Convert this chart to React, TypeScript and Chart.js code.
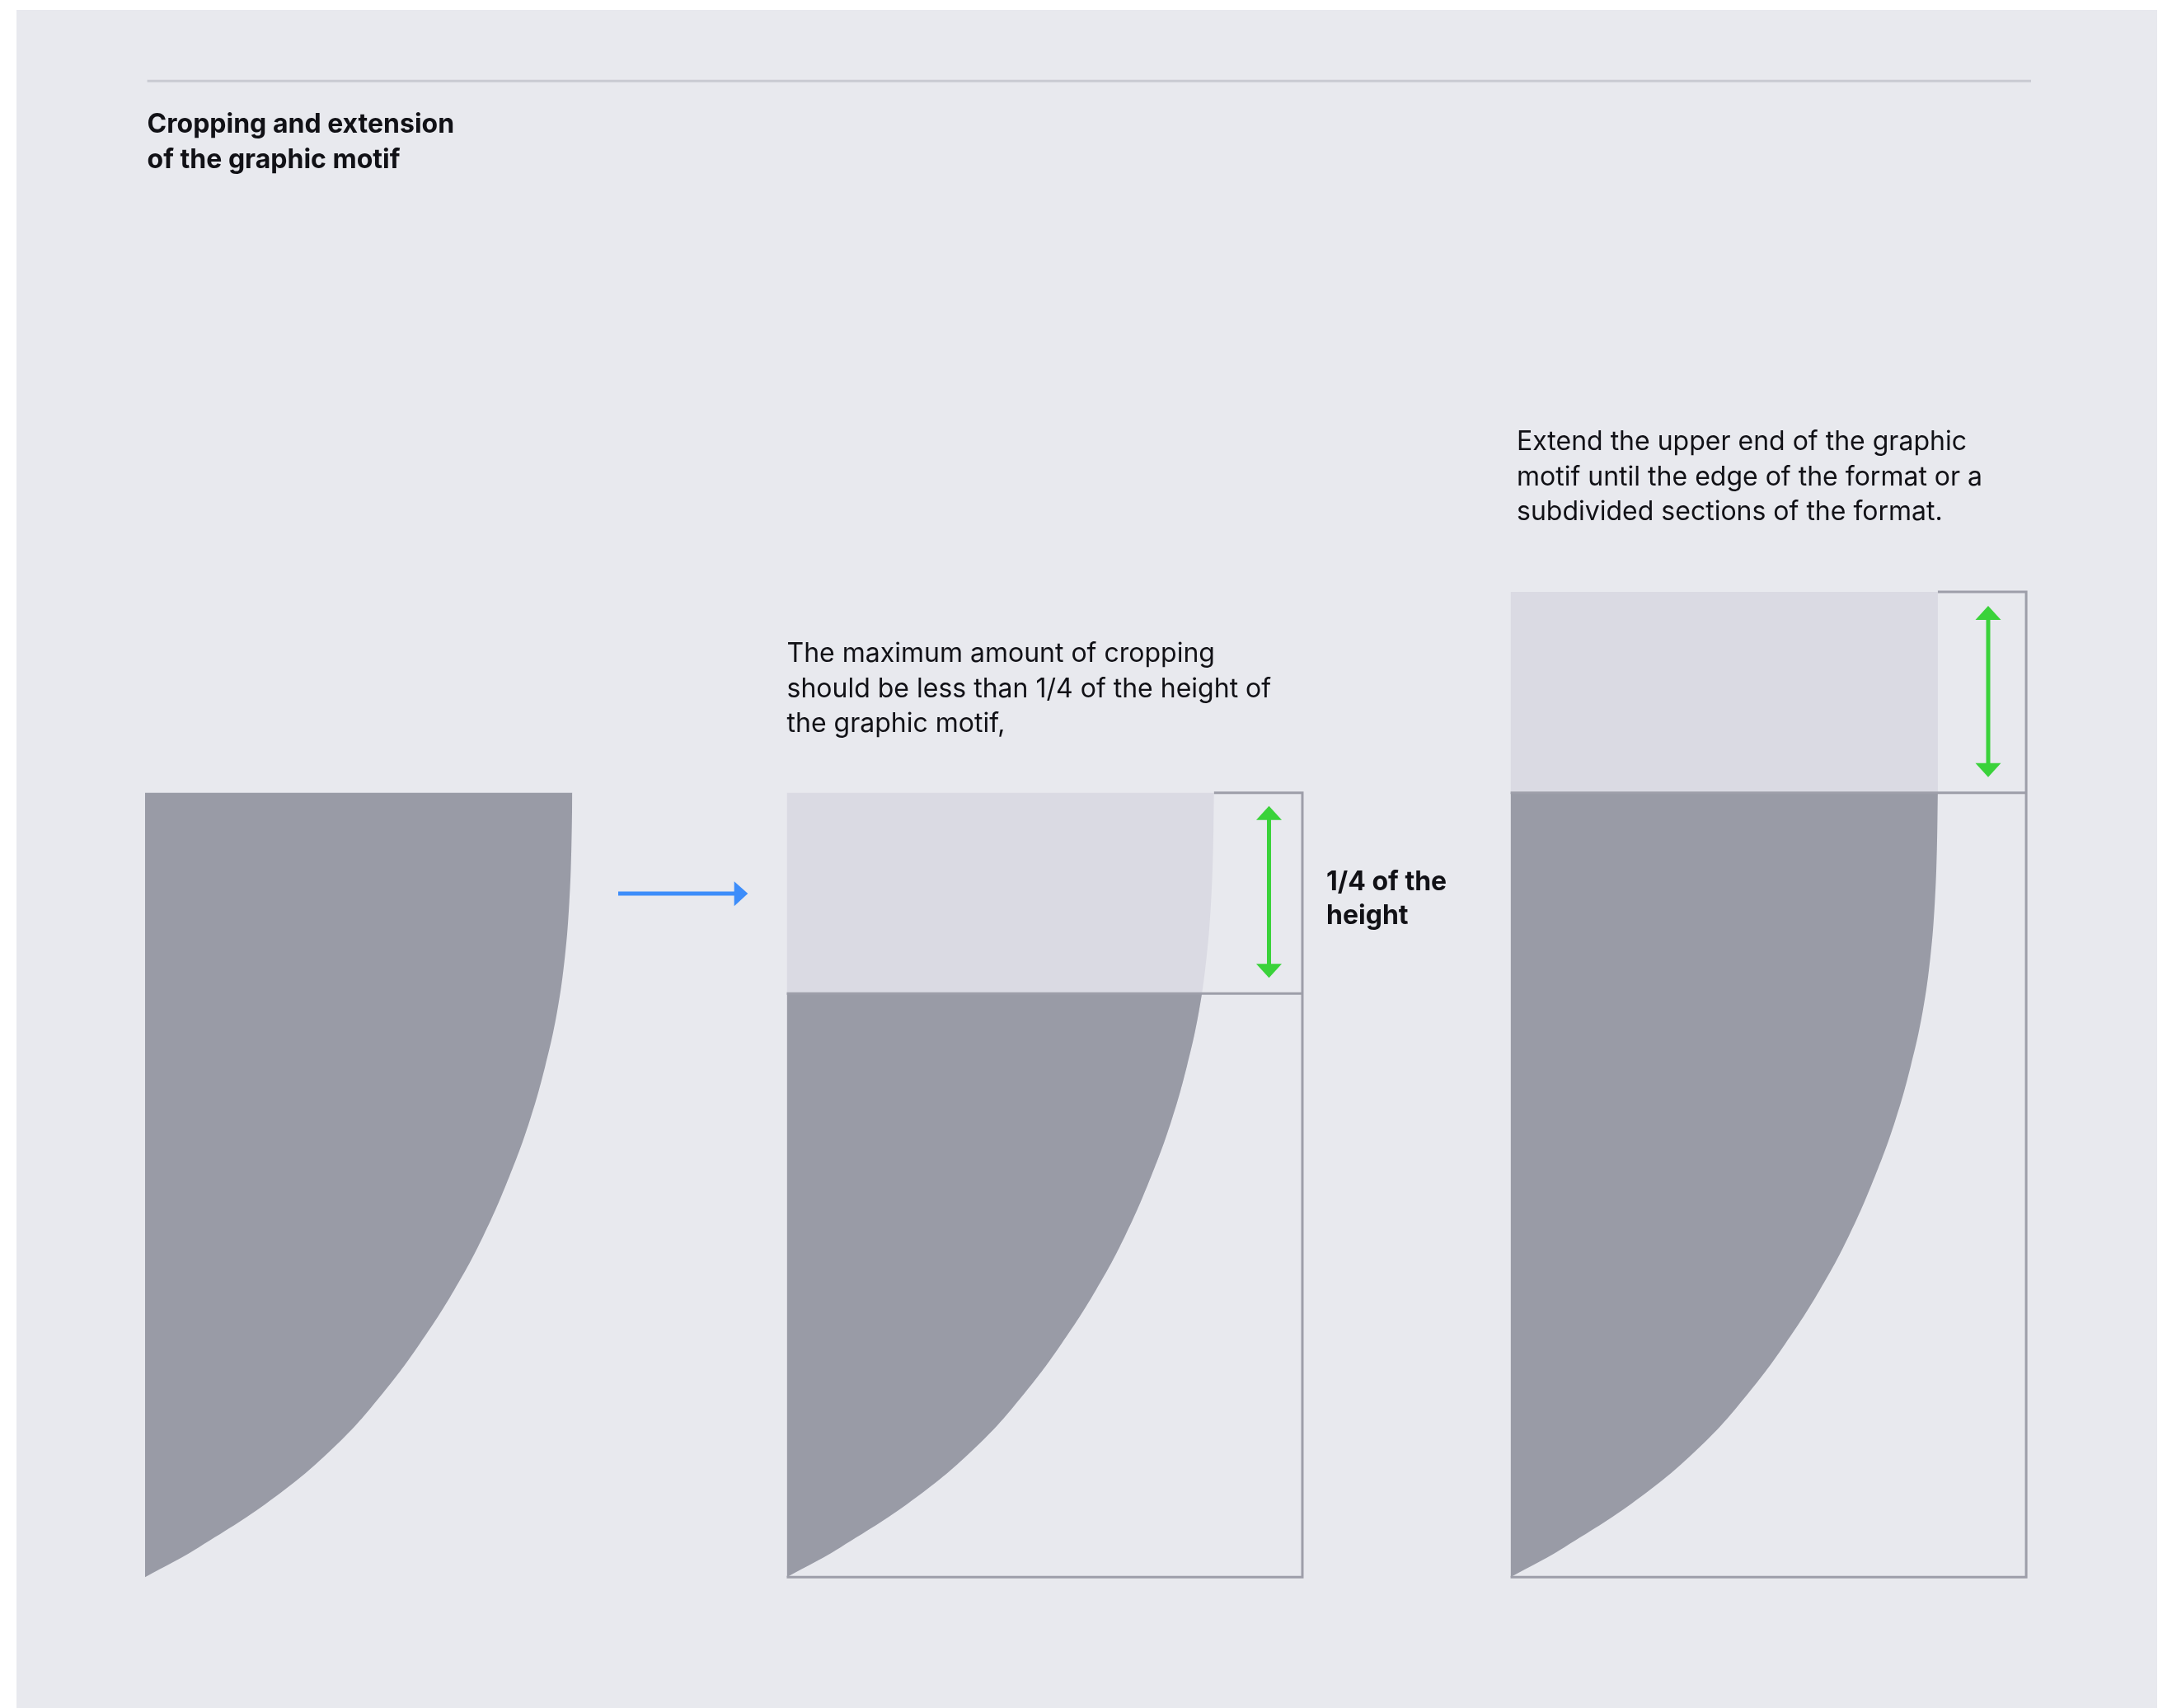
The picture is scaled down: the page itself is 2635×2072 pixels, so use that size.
import React, { useEffect, useRef } from "react";
import { Chart, registerables } from "chart.js";

Chart.register(...registerables);

// ---------- data ----------
// Outline of the graphic motif: x and y in percent of the motif height,
// y measured downward from the motif top (read off the reference).
const motifEdgeX = [0, 6.83, 16.71, 24.7, 30.32, 35.03, 39.41, 43.09, 46.45, 49.02, 51.02, 52.54, 53.53, 54.08, 54.35, 54.47];
const motifEdgeY = [100, 96.2, 89.68, 82.84, 76.54, 70.23, 63.4, 56.57, 48.9, 41.86, 34.82, 27.88, 20.84, 14.01, 7.18, 0];
// share of the motif height that is cropped (panel 2) / extended (panel 3)
const cropShare = 25.6;
const motifWidthShare = 54.47;

const titleLines = ["Cropping and extension", "of the graphic motif"];
const cropNoteLines = [
  "The maximum amount of cropping",
  "should be less than 1/4 of the height of",
  "the graphic motif,",
];
const quarterLabelLines = ["1/4 of the", "height"];
const extendNoteLines = [
  "Extend the upper end of the graphic",
  "motif until the edge of the format or a",
  "subdivided sections of the format.",
];

// ---------- layout ----------
const W = 2635;
const H = 2072;
const MOTIF_TOP = 961.7;
const MOTIF_H = 951.6;
const PANEL_LEFT = [176, 954.5, 1832.6];
const BOX_W = 625.5;

const COL_BG = "#e8e9ee";
const COL_DARK = "#999ba6";
const COL_LIGHT = "#dadae3";
const COL_LINE = "#9d9ea9";
const COL_RULE = "#c9cad2";
const COL_GREEN = "#3ad23a";
const COL_BLUE = "#3d8dfa";
const FONT = "Inter, 'Noto Sans', sans-serif";

const px = (share: number) => (share / 100) * MOTIF_H;

function motifCurve(left: number) {
  return motifEdgeX.map((u, i) => ({ x: left + px(u), y: MOTIF_TOP + px(motifEdgeY[i]) }));
}

function vArrow(x: number, yTop: number, yBot: number) {
  const hh = 17;
  const hw = 15.5;
  return [
    {
      data: [
        { x, y: yTop + hh - 1 },
        { x, y: yBot - hh + 1 },
      ],
      borderColor: COL_GREEN,
      borderWidth: 5,
      fill: false,
    },
    {
      data: [
        { x: x - hw, y: yTop + hh },
        { x, y: yTop },
        { x: x + hw, y: yTop + hh },
      ],
      borderWidth: 0,
      backgroundColor: COL_GREEN,
      fill: "shape",
    },
    {
      data: [
        { x: x - hw, y: yBot - hh },
        { x, y: yBot },
        { x: x + hw, y: yBot - hh },
      ],
      borderWidth: 0,
      backgroundColor: COL_GREEN,
      fill: "shape",
    },
  ];
}

function buildDatasets() {
  const top = MOTIF_TOP;
  const bottom = MOTIF_TOP + MOTIF_H;
  const cropY = MOTIF_TOP + px(cropShare);
  const extTop = MOTIF_TOP - px(cropShare);
  const mw = px(motifWidthShare);
  const [l1, l2, l3] = PANEL_LEFT;

  const ds: any[] = [
    // top rule
    {
      data: [
        { x: 178.6, y: 98.3 },
        { x: 2464, y: 98.3 },
      ],
      borderColor: COL_RULE,
      borderWidth: 3,
      fill: false,
    },
    // panel 1: motif
    { data: motifCurve(l1), tension: 0.4, borderWidth: 0, backgroundColor: COL_DARK, fill: { value: top } },
    // panel 2: whole motif, light
    { data: motifCurve(l2), tension: 0.4, borderWidth: 0, backgroundColor: COL_LIGHT, fill: { value: top } },
    // panel 2: part that stays, dark
    {
      data: motifCurve(l2),
      tension: 0.4,
      borderWidth: 0,
      backgroundColor: COL_DARK,
      fill: { target: { value: cropY }, above: "rgba(0,0,0,0)", below: COL_DARK },
    },
    // panel 3: extension, light
    {
      data: [
        { x: l3, y: extTop },
        { x: l3 + mw, y: extTop },
      ],
      borderWidth: 0,
      backgroundColor: COL_LIGHT,
      fill: { value: top },
    },
    // panel 3: motif
    { data: motifCurve(l3), tension: 0.4, borderWidth: 0, backgroundColor: COL_DARK, fill: { value: top } },
    // panel 2 frame
    {
      data: [
        { x: l2 + mw, y: top },
        { x: l2 + BOX_W, y: top },
        { x: l2 + BOX_W, y: bottom },
        { x: l2, y: bottom },
      ],
      borderColor: COL_LINE,
      borderWidth: 3,
      fill: false,
    },
    {
      data: [
        { x: l2, y: cropY },
        { x: l2 + BOX_W, y: cropY },
      ],
      borderColor: COL_LINE,
      borderWidth: 3,
      fill: false,
    },
    // panel 3 frame
    {
      data: [
        { x: l3 + mw, y: extTop },
        { x: l3 + BOX_W, y: extTop },
        { x: l3 + BOX_W, y: bottom },
        { x: l3, y: bottom },
      ],
      borderColor: COL_LINE,
      borderWidth: 3,
      fill: false,
    },
    {
      data: [
        { x: l3, y: top },
        { x: l3 + BOX_W, y: top },
      ],
      borderColor: COL_LINE,
      borderWidth: 3,
      fill: false,
    },
    // green measuring arrows
    ...vArrow(1539.5, top + 16, cropY - 19),
    ...vArrow(2412, extTop + 17, top - 19),
    // blue arrow
    {
      data: [
        { x: 750, y: 1084 },
        { x: 892, y: 1084 },
      ],
      borderColor: COL_BLUE,
      borderWidth: 5,
      fill: false,
    },
    {
      data: [
        { x: 890.7, y: 1069.3 },
        { x: 907.3, y: 1084 },
        { x: 890.7, y: 1099.3 },
      ],
      borderWidth: 0,
      backgroundColor: COL_BLUE,
      fill: "shape",
    },
  ];
  // later datasets are drawn on top
  return ds.map((d, i) => ({ pointRadius: 0, pointHoverRadius: 0, tension: 0, ...d, order: 100 - i }));
}

function TextBlock(props: {
  lines: string[];
  left: number;
  top: number;
  size: number;
  lh: number;
  weight: number;
}) {
  return (
    <div
      style={{
        position: "absolute",
        left: props.left,
        top: props.top,
        fontFamily: FONT,
        fontSize: props.size,
        lineHeight: props.lh + "px",
        fontWeight: props.weight,
        color: "#111116",
        whiteSpace: "nowrap",
        zIndex: 2,
      }}
    >
      {props.lines.map((l, i) => (
        <div key={i}>{l}</div>
      ))}
    </div>
  );
}

export default function App() {
  const ref = useRef<HTMLCanvasElement | null>(null);

  useEffect(() => {
    if (!ref.current) return;
    const chart = new Chart(ref.current, {
      type: "line",
      data: { datasets: buildDatasets() },
      options: {
        animation: false,
        responsive: false,
        maintainAspectRatio: false,
        events: [],
        layout: { padding: 0 },
        scales: {
          x: { type: "linear", min: 0, max: W, display: false },
          y: { type: "linear", min: 0, max: H, reverse: true, display: false },
        },
        elements: {
          point: { radius: 0, hoverRadius: 0 },
          line: { borderCapStyle: "butt", borderJoinStyle: "miter" },
        },
        plugins: {
          legend: { display: false },
          tooltip: { enabled: false },
          title: { display: false },
        },
      } as any,
    });
    return () => chart.destroy();
  }, []);

  return (
    <div
      style={{
        position: "absolute",
        left: 0,
        top: 0,
        width: W,
        height: H,
        background: "#ffffff",
        overflow: "hidden",
      }}
    >
      <div
        style={{
          position: "absolute",
          left: 20,
          top: 12,
          width: 2597,
          height: H - 12,
          background: COL_BG,
        }}
      />
      <canvas
        ref={ref}
        width={W}
        height={H}
        style={{ position: "absolute", left: 0, top: 0, width: W, height: H, zIndex: 1 }}
      />
      <TextBlock lines={titleLines} left={178.6} top={127.5} size={32} lh={43} weight={700} />
      <TextBlock lines={cropNoteLines} left={954.5} top={771} size={32} lh={42.5} weight={400} />
      <TextBlock lines={quarterLabelLines} left={1609} top={1048} size={32} lh={41} weight={700} />
      <TextBlock lines={extendNoteLines} left={1840} top={514} size={32} lh={42.5} weight={400} />
    </div>
  );
}
